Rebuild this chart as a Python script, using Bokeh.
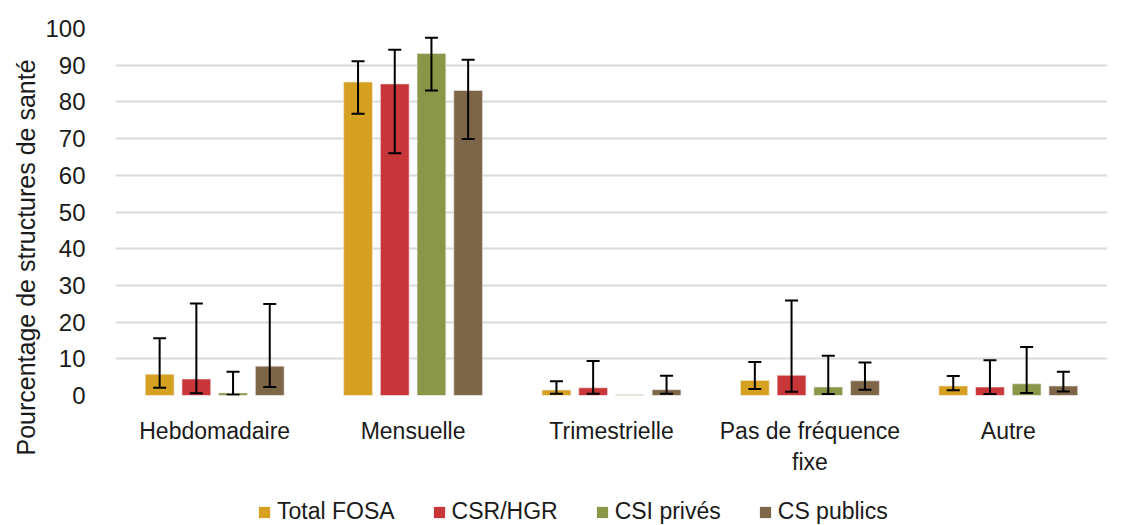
from bokeh.plotting import figure
from bokeh.models import (ColumnDataSource, Range1d, FixedTicker, Whisker, TeeHead,
                          Legend, LegendItem, Title)
from bokeh.layouts import column
from bokeh.embed import file_html
from bokeh.resources import INLINE

categories = ["Hebdomadaire", "Mensuelle", "Trimestrielle", "Pas de fréquence\nfixe", "Autre"]
series = ["Total FOSA", "CSR/HGR", "CSI privés", "CS publics"]
colors = ["#D6A020", "#C8363A", "#8A9648", "#7E6749"]

total_fosa = [5.8, 85.4, 1.5, 4.1, 2.6]
total_fosa_low = [2.1, 76.8, 0.5, 1.8, 1.4]
total_fosa_high = [15.6, 91.1, 3.9, 9.1, 5.3]

csr_hgr = [4.5, 84.9, 2.1, 5.5, 2.3]
csr_hgr_low = [0.6, 66.0, 0.5, 1.0, 0.4]
csr_hgr_high = [25.1, 94.2, 9.4, 25.9, 9.6]

csi_prives = [0.7, 93.2, 0.2, 2.3, 3.2]
csi_prives_low = [0.2, 83.1, None, 0.4, 0.7]
csi_prives_high = [6.5, 97.5, None, 10.8, 13.2]

cs_publics = [8.0, 83.1, 1.6, 4.0, 2.6]
cs_publics_low = [2.3, 69.9, 0.5, 1.6, 1.1]
cs_publics_high = [24.9, 91.5, 5.4, 9.0, 6.5]

y_ticks = list(range(0, 101, 10))
y_title = "Pourcentage de structures de santé"

values = [total_fosa, csr_hgr, csi_prives, cs_publics]
lows = [total_fosa_low, csr_hgr_low, csi_prives_low, cs_publics_low]
highs = [total_fosa_high, csr_hgr_high, csi_prives_high, cs_publics_high]

FONT = "Liberation Sans"
TXT = "#1a1a1a"
step = 0.185
bw = 0.145

p = figure(width=1107, height=484, output_backend="svg", toolbar_location=None,
           x_range=Range1d(0, 5), y_range=Range1d(0, 100),
           min_border_left=115, min_border_right=0, min_border_top=28, min_border_bottom=89)
p.outline_line_color = None
p.background_fill_color = "white"
p.border_fill_color = "white"

# legend-only figure (bars fall outside its visible range)
lf = figure(width=1107, height=41, output_backend="svg", toolbar_location=None,
            x_range=Range1d(0, 5), y_range=Range1d(1000, 1001),
            x_axis_type=None, y_axis_type=None,
            min_border_left=0, min_border_right=0, min_border_top=0, min_border_bottom=0)
lf.outline_line_color = None
lf.grid.grid_line_color = None

items = []
for k, (name, col) in enumerate(zip(series, colors)):
    xs = [i + 0.5 + (k - 1.5) * step for i in range(len(categories))]
    src = ColumnDataSource(dict(x=xs, top=values[k]))
    p.vbar(x="x", top="top", width=bw, source=src, fill_color=col,
           line_color="#F2E6E6", line_width=1, line_alpha=0.6)
    r2 = lf.vbar(x="x", top="top", width=bw, source=src, fill_color=col, line_color=None)
    items.append(LegendItem(label=name, renderers=[r2]))
    ex, el, eh = [], [], []
    for x, lo, hi in zip(xs, lows[k], highs[k]):
        if lo is None or hi is None:
            continue
        ex.append(x); el.append(lo); eh.append(hi)
    esrc = ColumnDataSource(dict(x=ex, lower=el, upper=eh))
    w = Whisker(source=esrc, base="x", lower="lower", upper="upper", dimension="height",
                line_color="black", line_width=2, level="overlay",
                upper_head=TeeHead(size=13, line_width=2, line_color="black"),
                lower_head=TeeHead(size=13, line_width=2, line_color="black"))
    p.add_layout(w)

# x axis
p.xaxis.ticker = FixedTicker(ticks=[i + 0.5 for i in range(len(categories))])
p.xaxis.major_label_overrides = {i + 0.5: c for i, c in enumerate(categories)}
p.xaxis.axis_line_color = None
p.xaxis.major_tick_line_color = None
p.xaxis.minor_tick_line_color = None
p.xaxis.major_label_text_font = FONT
p.xaxis.major_label_text_font_size = "23px"
p.xaxis.major_label_text_color = TXT
p.xaxis.major_label_standoff = 16
p.xgrid.grid_line_color = None

# y axis
p.yaxis.ticker = FixedTicker(ticks=y_ticks)
p.yaxis.axis_line_color = None
p.yaxis.major_tick_line_color = None
p.yaxis.minor_tick_line_color = None
p.yaxis.major_label_text_font = FONT
p.yaxis.major_label_text_font_size = "24px"
p.yaxis.major_label_text_color = TXT
p.yaxis.major_label_standoff = 24
p.ygrid.grid_line_color = "#D9D9D9"
p.ygrid.grid_line_width = 2

ytitle = Title(text=y_title, align="left", offset=-60, standoff=6,
               text_font=FONT, text_font_size="25px", text_font_style="normal",
               text_color=TXT)
p.add_layout(ytitle, "left")

legend = Legend(items=items, orientation="horizontal", location=(142, 0),
                label_text_font=FONT, label_text_font_size="23px", label_text_color=TXT,
                glyph_width=14, glyph_height=14, spacing=37, label_standoff=6,
                border_line_color=None, background_fill_alpha=0, margin=0, padding=0)
lf.add_layout(legend)

layout = column(p, lf, spacing=0)
open("out.html", "w").write(file_html(layout, INLINE))
